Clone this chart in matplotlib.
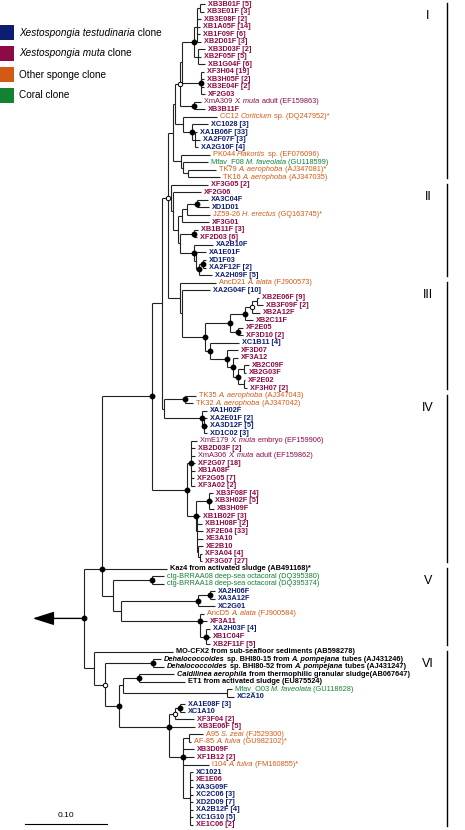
import matplotlib
matplotlib.use("Agg")
import matplotlib.pyplot as plt
from matplotlib.collections import LineCollection

plt.rcParams["font.family"] = ["Liberation Sans", "DejaVu Sans"]

# ---- leaves, top to bottom; |...| marks italic runs ----
LABELS = [
    "XB3B01F [5]", "XB3E01F [3]", "XB3E08F [2]", "XB1A05F [14]", "XB1F09F [6]",
    "XB2D01F [3]", "XB3D03F [2]", "XB2F05F [5]", "XB1G04F [6]", "XF3H04 [19]",
    "XB3H05F [2]", "XB3E04F [2]", "XF2G03", "XmA309 |X. muta| adult (EF159863)", "XB3B11F",
    "CC12 |Corticium| sp. (DQ247952)*", "XC1028 [3]", "XA1B06F [33]", "XA2F07F [3]", "XA2G10F [4]",
    "PK044 |Plakortis| sp. (EF076096)", "Mfav_F08 |M. faveolata| (GU118599)",
    "TK79 |A. aerophoba| (AJ347081)*", "TK16 |A. aerophoba| (AJ347035)",
    "XF3G05 [2]", "XF2G06", "XA3C04F", "XD1D01", "JZ59-26 |H. erectus| (GQ163745)*",
    "XF3G01", "XB1B11F [3]", "XF2D03 [6]", "XA2B10F", "XA1E01F",
    "XD1F03", "XA2F12F [2]", "XA2H09F [5]",
    "AncD21 |A. alata| (FJ900573)", "XA2G04F [10]", "XB2E06F [9]", "XB3F09F [2]", "XB2A12F",
    "XB2C11F", "XF2E05", "XF3D10 [2]", "XC1B11 [4]", "XF3D07",
    "XF3A12", "XB2C09F", "XB2G03F", "XF2E02", "XF3H07 [2]",
    "TK35 |A. aerophoba| (AJ347043)", "TK32 |A. aerophoba| (AJ347042)", "XA1H02F", "XA2E01F [2]",
    "XA3D12F [5]", "XD1C02 [3]", "XmE179 |X. muta| embryo (EF159906)", "XB2D03F [2]",
    "XmA306 |X. muta| adult (EF159862)", "XF2G07 [18]", "XB1A08F", "XF2G05 [7]", "XF3A02 [2]",
    "XB3F08F [4]", "XB3H02F [5]", "XB3H09F", "XB1B02F [3]", "XB1H08F [2]",
    "XF2E04 [33]", "XE3A10", "XE2B10", "XF3A04 [4]", "XF3G07 [27]",
    "Kaz4 from activated sludge (AB491168)*",
    "ctg-BRRAA08 deep-sea octacoral (DQ395380)", "ctg-BRRAA18 deep-sea octacoral (DQ395374)",
    "XA2H06F", "XA3A12F", "XC2G01", "AncD5 |A. alata| (FJ900584)", "XF3A11",
    "XA2H03F [4]", "XB1C04F", "XB2F11F [5]",
    "MO-CFX2 from sub-seafloor sediments (AB598278)",
    "|Dehalococcoides| sp. BHI80-15 from |A. pompejana| tubes (AJ431246)",
    "|Dehalococcoides| sp. BHI80-52 from |A. pompejana| tubes (AJ431247)",
    "|Caldilinea aerophila| from thermophilic granular sludge(AB067647)",
    "ET1 from activated sludge (EU875524)",
    "Mfav_O03 |M. faveolata| (GU118628)", "XC2A10", "XA1E08F [3]", "XC1A10", "XF3F04 [2]",
    "XB3E06F [5]", "A95 |S. zeai| (FJ529300)", "AF-85 |A. fulva| (GU982102)*", "XB3D09F",
    "XF1B12 [2]", "I104 |A. fulva| (FM160855)*", "XC1021", "XE1E06", "XA3G09F",
    "XC2C06 [3]", "XD2D09 [7]", "XA2B12F [4]", "XC1G10 [5]", "XE1C06 [2]",
]

# T testudinaria clone, M muta clone, R muta reference, O other sponge, C coral, K outgroup
GROUPS = ("MMMMMMMMMMMMMRMOTTTTOCOO"
          "MMTTOMMMTTTTT"
          "OTMMMMMMTMMMMMM"
          "OOTTTTRMRMMMMMMMMMMMMMM"
          "KCCTTTOMTMM"
          "KKKKKCTTTMMOOMMOTMTTTTTM")

# tip depth, in the drawing's distance units (scale bar 0.10 subst./site = SCALE_BAR units)
TIP_X = [
    .205, .204, .201, .200, .200, .201, .205, .201, .205, .204,
    .204, .204, .205, .201, .205, .217, .208, .197, .200, .198,
    .210, .208, .216, .220, .208, .201, .208, .209, .210, .209,
    .198, .197, .213, .206, .206, .206, .212, .216, .210, .259,
    .263, .260, .253, .243, .243, .239, .238, .238, .249, .246,
    .245, .247, .196, .193, .207, .207, .207, .207, .197, .195,
    .195, .195, .195, .194, .195, .213, .212, .214, .200, .202,
    .203, .203, .203, .202, .202, .167, .164, .164, .215, .215,
    .215, .204, .207, .210, .210, .210, .173, .161, .164, .174,
    .185, .232, .234, .185, .185, .194, .195, .203, .191, .194,
    .194, .209, .193, .193, .193, .193, .193, .193, .193, .193,
]

# topology: leaf numbers, "(...)depth" for internal nodes, * = strong support, o = moderate
CLADE_I = ("(((((((1,2).200,3,4,5,6).197,(7,8,9).198).194*,(10,11,12,13).201*).182,"
           "(14,15).194*).180o,(16,(17,(18,19,20).195).192*).183).175,"
           "(21,(22,(23,24).188).183).181).173")
CLADE_II = ("(25,(26,((((27,28).197*,29).187,30).182,((31,32).194*,"
            "(33,(34,((35,36).203*,37).199*).196).194*).180).178).173).171")
CLADE_III = ("(38,(39,(((((40,41).257,42).252o,43).245*,(44,45).238*).230*,"
             "(46,(47,(48,((49,50).244,(51,52).244).238*).233*).227*).210*).205*).182).180")
CLADE_IV_TOP = "(53,54).185*,(55,(56,57,58).204*).202*"
CLADE_IV_MUTA = ("((59,60,61,62,63,64,65).191*,((66,67,68).209*,"
                 "(69,70,71,72,(73,(74,75).200).198).197).196*).187*")
CLADE_V = "((77,78).152*,(((79,80).210*,81).198*,(82,83,(84,85,86).206*).200*).121).113"
CLADE_VI = ("(87,((88,89).153*,(((90,91).139*,(92,93).227).123,"
            "(((94,95).180*,96).175o,97,((98,99).189,100,101,102,"
            "(103,104,105,106,107,108,109,110).190).183*).169*).119*).105o).094")
TREE = ("(((((" + CLADE_I + "," + CLADE_II + "," + CLADE_III + ").168o,("
        + CLADE_IV_TOP + ").164).162," + CLADE_IV_MUTA + ").152*,76," + CLADE_V + ").102*,"
        + CLADE_VI + ").084*")

CLADE_NAMES = ["I", "II", "III", "IV", "V", "VI"]
CLADE_FIRST = [1, 25, 38, 53, 76, 87]
CLADE_LAST = [24, 37, 52, 75, 86, 110]

LEGEND_TEXT = ["|Xestospongia testudinaria| clone", "|Xestospongia muta| clone",
               "Other sponge clone", "Coral clone"]
LEGEND_KEYS = ["T", "M", "O", "C"]
SCALE_BAR = 0.082
SCALE_LABEL = "0.10"

COLORS = {"T": "#0d1e72", "M": "#8c0a46", "R": "#8c0a46", "O": "#d25a14",
          "C": "#138232", "K": "black"}
BOLD = {"T": True, "M": True, "R": False, "O": False, "C": False, "K": True}


def parse(s):
    s = s.replace(" ", "")
    pos = 0

    def node():
        nonlocal pos
        if s[pos] == "(":
            pos += 1
            kids = [node()]
            while s[pos] == ",":
                pos += 1
                kids.append(node())
            pos += 1
            st = pos
            while pos < len(s) and (s[pos].isdigit() or s[pos] == "."):
                pos += 1
            x = float(s[st:pos])
            mark = ""
            if pos < len(s) and s[pos] in "*o":
                mark = s[pos]
                pos += 1
            return {"kids": kids, "x": x, "mark": mark}
        st = pos
        while pos < len(s) and s[pos].isdigit():
            pos += 1
        return {"leaf": int(s[st:pos])}

    return node()


def leaf_y(i):
    return 4 + (i - 1) * 7.53


fig = plt.figure(figsize=(4.65, 8.3), dpi=100)
ax = fig.add_axes([0, 0, 1, 1])
ax.set_xlim(0, 0.465)
ax.set_ylim(830, 0)
ax.axis("off")
renderer = fig.canvas.get_renderer()


def rich(x, y, text, color, bold, size):
    italic = False
    for part in text.split("|"):
        if part:
            t = ax.text(x, y, part, color=color, fontsize=size, va="center", ha="left",
                        fontweight="bold" if bold else "normal",
                        fontstyle="italic" if italic else "normal")
            bb = t.get_window_extent(renderer)
            x += bb.width / 1000.0
        italic = not italic


segs, filled, opened = [], [], []


def draw(n):
    if "leaf" in n:
        i = n["leaf"]
        return TIP_X[i - 1], leaf_y(i)
    pts = [draw(k) for k in n["kids"]]
    ys = [p[1] for p in pts]
    x = n["x"]
    segs.append([(x, min(ys)), (x, max(ys))])
    for cx, cy in pts:
        segs.append([(x, cy), (cx, cy)])
    # odd polytomies hang from the middle child, otherwise from the midpoint
    if len(ys) % 2 == 1 and len(ys) > 1:
        y = ys[len(ys) // 2]
    else:
        y = (min(ys) + max(ys)) / 2
    if n["mark"] == "*":
        filled.append((x, y))
    elif n["mark"] == "o":
        opened.append((x, y))
    return x, y


root = parse(TREE)
rx, ry = draw(root)
ax.add_collection(LineCollection(segs, colors="#222222", linewidths=0.8))
ax.plot([p[0] for p in filled], [p[1] for p in filled], "o", ms=3.2, color="black", zorder=3)
ax.plot([p[0] for p in opened], [p[1] for p in opened], "o", ms=3.2, mfc="white",
        mec="black", mew=0.7, zorder=3)
ax.annotate("", xy=(0.030, ry), xytext=(rx, ry),
            arrowprops=dict(arrowstyle="-|>,head_length=1.1,head_width=0.35",
                            mutation_scale=12, lw=1.0, color="black"))

for i, (lab, g) in enumerate(zip(LABELS, GROUPS), start=1):
    rich(TIP_X[i - 1] + 0.003, leaf_y(i), lab, COLORS[g], BOLD[g], 5.3)

# clade brackets
for name, a, b in zip(CLADE_NAMES, CLADE_FIRST, CLADE_LAST):
    y0, y1 = leaf_y(a) - 1, leaf_y(b) + 1
    ax.plot([0.447, 0.447], [y0, y1], color="black", lw=1.0)
    ax.text(0.428, y0 + 13, name, fontsize=9, ha="center", va="center")

# legend
for k, (txt, key) in enumerate(zip(LEGEND_TEXT, LEGEND_KEYS)):
    yc = 32.5 + k * 21
    ax.add_patch(plt.Rectangle((0.0, yc - 7.5), 0.014, 15, color=COLORS[key], lw=0))
    rich(0.019, yc, txt, "black", False, 7.2)

# scale bar
ax.plot([0.025, 0.025 + SCALE_BAR], [824, 824], color="black", lw=0.8)
ax.text(0.025 + SCALE_BAR / 2, 815, SCALE_LABEL, fontsize=6, ha="center", va="center")

fig.savefig("out.png", dpi=100)
